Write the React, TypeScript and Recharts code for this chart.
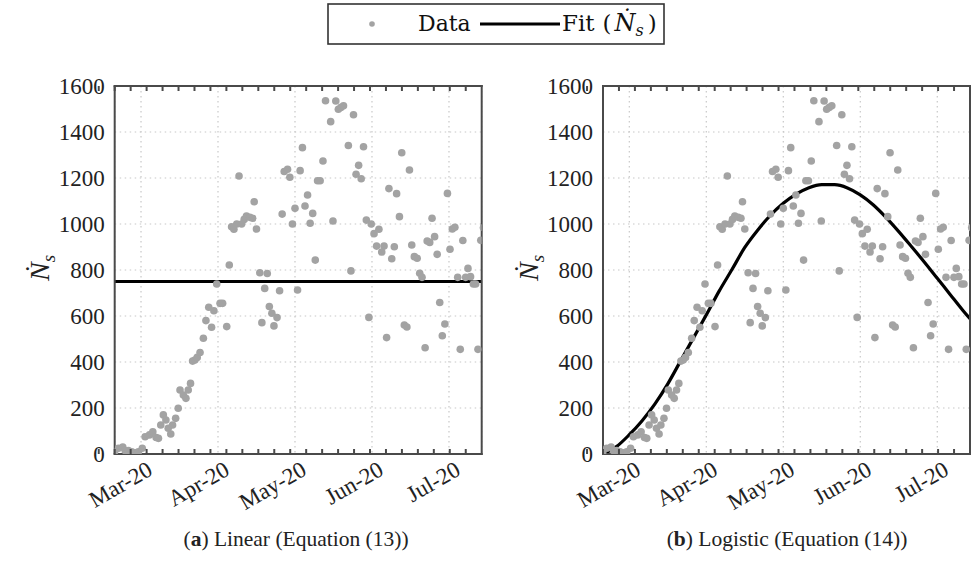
import React from "react";
import { ComposedChart, Scatter, Line, XAxis, YAxis, CartesianGrid } from "recharts";

// daily values (day 0 = Mar-20 tick)
const dataDays = [
  -10.3, -8.8, -7.1, -6.2, -4.9, -3.6, -2.3, -1.0, 0.5, 1.6,
  3.3, 4.6, 5.9, 6.8, 7.7, 8.7, 9.7, 10.6, 11.6, 12.3,
  13.5, 14.5, 15.2, 16.5, 17.5, 18.4, 19.3, 20.1, 21, 21.9,
  23, 24.3, 25.3, 26.4, 27.5, 28.4, 29.5, 30.8, 31.8, 33.4,
  34.4, 35.3, 36.2, 37.3, 38.2, 39.2, 40.2, 41.1, 42.4, 43.5,
  44.1, 45, 46.3, 47.1, 48.2, 49.2, 50, 51, 51.8, 53,
  54, 55, 55.8, 57.1, 58, 59, 60, 61, 62, 62.9,
  63.9, 64.9, 65.9, 66.9, 67.9, 68.8, 69.8, 70.9, 71.9, 73.9,
  74.8, 75.9, 76.9, 77.9, 78.9, 80.8, 81.8, 82.8, 83.8, 84.8,
  85.8, 86.7, 87.8, 88.8, 89.7, 90.8, 91.8, 92.7, 93.8, 94.7,
  95.7, 96.6, 97.7, 98.7, 99.6, 100.7, 101.6, 102.6, 103.6, 104.6,
  105.5, 106.5, 107.6, 108.6, 109.5, 110.7, 111.5, 112.5, 113.4, 114.4,
  115.4, 116.4, 117.4, 118.4, 119.4, 120.4, 121.3, 122.3, 123.4, 124.4,
  125.4, 126.5, 127.4, 128.4, 129.5, 130.4, 131.3, 132.4, 133.4,
];
const dataCases = [
  10, 25, 30, 15, 15, 10, 5, 10, 25, 75,
  83, 97, 72, 68, 126, 170, 148, 112, 87, 126,
  155, 199, 278, 256, 242, 278, 307, 404, 409, 420,
  441, 503, 580, 638, 551, 623, 739, 655, 655, 554,
  822, 988, 977, 1000, 1209, 1000, 1020, 1035, 1029, 1025,
  1097, 978, 788, 571, 720, 785, 641, 612, 557, 593,
  710, 1043, 1228, 1238, 1203, 1000, 1068, 713, 1232, 1332,
  1078, 1126, 1003, 1046, 843, 1188, 1188, 1274, 1536, 1445,
  1013, 1535, 1499, 1507, 1514, 1341, 796, 1475, 1216, 1255,
  1197, 1336, 1017, 594, 1000, 958, 904, 977, 878, 904,
  506, 1154, 849, 901, 1132, 1032, 1310, 561, 552, 1235,
  909, 858, 851, 786, 768, 462, 926, 920, 1025, 945,
  868, 659, 514, 565, 1133, 890, 978, 986, 768, 455,
  928, 768, 807, 771, 739, 739, 455, 929, 984,
];

// fitted curves
const linearDays = [-10.25, 132.75];
const linearFit = [750, 750];
const logisticDays = [-10.25, -5, 0, 5, 10, 15, 20, 25, 30, 35, 40, 45, 50, 55, 60, 65, 70, 75, 80, 85, 90, 95, 100, 105, 110, 115, 120, 125, 130, 132.75];
const logisticFit = [0, 32, 84, 145, 218, 305, 405, 505, 605, 708, 802, 898, 973, 1038, 1090, 1130, 1158, 1171, 1171, 1157, 1127, 1084, 1029, 967, 901, 834, 764, 694, 624, 588];

const monthTicks = [0, 30, 60, 90, 120];
const monthLabels = ["Mar-20", "Apr-20", "May-20", "Jun-20", "Jul-20"];
const minorX = [-6, 0, 6, 12, 18, 24, 30, 36, 42, 48, 54, 60, 66, 72, 78, 84, 90, 96, 102, 108, 114, 120, 126, 132];
const yTicks = [0, 200, 400, 600, 800, 1000, 1200, 1400, 1600];
const minorY = [
  0, 50, 100, 150, 200, 250, 300, 350, 400, 450, 500, 550, 600, 650, 700, 750, 800,
  850, 900, 950, 1000, 1050, 1100, 1150, 1200, 1250, 1300, 1350, 1400, 1450, 1500, 1550, 1600,
];

const X_DOMAIN: [number, number] = [-10.25, 132.75];
const FONT = "Liberation Serif, DejaVu Serif, serif";
const WIDE_FONT = "DejaVu Serif, serif";
const FRAME = "#4a4a4a";
const TEXT = "#222";

const MonthTick = ({ x, y, payload }: any) => {
  const label = monthLabels[monthTicks.indexOf(payload.value)];
  const ax = x + 13;
  const ay = y + 19;
  return (
    <text x={ax} y={ay} textAnchor="end" fontSize={23} fontFamily={FONT} fill={TEXT} transform={`rotate(-30 ${ax} ${ay})`}>
      {label}
    </text>
  );
};

const YTick = ({ x, y, payload }: any) => (
  <text x={x - 9} y={y} dy="0.35em" textAnchor="end" fontSize={23} fontFamily={FONT} fill={TEXT}>
    {payload.value}
  </text>
);

const Dot = (p: any) => <circle cx={p.cx} cy={p.cy} r={3.8} fill="#a3a3a3" />;

const tickBottom = (p: any) => <line x1={p.x} x2={p.x} y1={p.y} y2={p.y - 5} stroke={FRAME} strokeWidth={2} />;
const tickTop = (p: any) => <line x1={p.x} x2={p.x} y1={p.y} y2={p.y + 5} stroke={FRAME} strokeWidth={2} />;
const tickLeft = (p: any) => <line x1={p.x} x2={p.x + 5} y1={p.y} y2={p.y} stroke={FRAME} strokeWidth={2} />;
const tickRight = (p: any) => <line x1={p.x} x2={p.x - 5} y1={p.y} y2={p.y} stroke={FRAME} strokeWidth={2} />;

interface PanelProps {
  fitDays: number[];
  fitValues: number[];
  left: number;
  width: number;
  plotLeft: number;
  plotRight: number;
}

// plot box spans y 86..454 of the page
const Panel: React.FC<PanelProps> = ({ fitDays, fitValues, left, width, plotLeft, plotRight }) => {
  const points = dataDays.map((d, i) => ({ day: d, v: dataCases[i] }));
  const fit = fitDays.map((d, i) => ({ day: d, v: fitValues[i] }));
  const frameLine = { stroke: FRAME, strokeWidth: 2, strokeLinecap: "square" as const };
  const common = { tickLine: false, tickSize: 0, tickMargin: 0, interval: 0 as const };
  return (
    <div style={{ position: "absolute", left, top: 0 }}>
      <ComposedChart
        width={width}
        height={578}
        data={points}
        margin={{ top: 85, right: width - plotRight - 1, bottom: 578 - 454 - 2, left: plotLeft - 2 }}
      >
        {/* frame axes first so they sit right on the plot edges */}
        <XAxis xAxisId="bm" type="number" domain={X_DOMAIN} ticks={minorX} height={1} axisLine={frameLine} tick={tickBottom} {...common} />
        <XAxis xAxisId="tm" orientation="top" type="number" domain={X_DOMAIN} ticks={minorX} height={1} axisLine={frameLine} tick={tickTop} {...common} />
        <YAxis yAxisId="lm" type="number" domain={[0, 1600]} ticks={minorY} width={1} axisLine={frameLine} tick={tickLeft} {...common} />
        <YAxis yAxisId="rm" orientation="right" type="number" domain={[0, 1600]} ticks={minorY} width={1} axisLine={frameLine} tick={tickRight} {...common} />
        <XAxis
          xAxisId="x"
          dataKey="day"
          type="number"
          domain={X_DOMAIN}
          ticks={monthTicks}
          allowDataOverflow
          height={1}
          axisLine={false}
          tick={MonthTick}
          {...common}
        />
        <YAxis
          yAxisId="y"
          type="number"
          domain={[0, 1600]}
          ticks={yTicks}
          allowDataOverflow
          width={1}
          axisLine={false}
          tick={YTick}
          {...common}
        />
        <CartesianGrid xAxisId="x" yAxisId="y" stroke="#c8c8c8" strokeDasharray="1.5 3.5" strokeWidth={1.2} />
        <Scatter xAxisId="x" yAxisId="y" data={points} dataKey="v" shape={Dot} isAnimationActive={false} />
        <Line
          xAxisId="x"
          yAxisId="y"
          data={fit}
          dataKey="v"
          type="monotone"
          stroke="#000"
          strokeWidth={3.2}
          dot={false}
          activeDot={false}
          isAnimationActive={false}
        />
      </ComposedChart>
    </div>
  );
};

const YLabel = ({ left }: { left: number }) => (
  <div
    style={{
      position: "absolute",
      left,
      top: 268,
      transform: "translate(-50%, -50%) rotate(-90deg)",
      fontFamily: FONT,
      fontSize: 28,
      color: TEXT,
      whiteSpace: "nowrap",
    }}
  >
    <i>Ṅ</i>
    <sub style={{ fontSize: 19 }}>
      <i>s</i>
    </sub>
  </div>
);

const Caption = ({ center, tag, text }: { center: number; tag: string; text: string }) => (
  <div
    style={{
      position: "absolute",
      left: center,
      top: 527,
      transform: "translateX(-50%)",
      fontFamily: FONT,
      fontSize: 21.5,
      color: TEXT,
      whiteSpace: "nowrap",
    }}
  >
    (<b>{tag}</b>) {text}
  </div>
);

const LegendBox = () => (
  <svg width={974} height={50} style={{ position: "absolute", left: 0, top: 0 }}>
    <rect x={328} y={4} width={336} height={40} fill="#fff" stroke="#333" strokeWidth={1.6} />
    <circle cx={372} cy={24} r={2.8} fill="#a3a3a3" />
    <text x={418} y={31} fontSize={22} fontFamily={WIDE_FONT} fill="#111">
      Data
    </text>
    <line x1={480} x2={560} y1={24} y2={24} stroke="#000" strokeWidth={3} />
    <text x={562} y={31} fontSize={23} fontFamily={WIDE_FONT} fill="#111">
      <tspan>Fit</tspan>
      <tspan dx={8}>(</tspan>
      <tspan dx={3} fontStyle="italic" fontSize={24}>
        Ṅ
      </tspan>
      <tspan fontStyle="italic" fontSize={16} dy={5}>
        s
      </tspan>
      <tspan dx={4} dy={-5}>
        )
      </tspan>
    </text>
  </svg>
);

export default function App() {
  return (
    <div style={{ position: "absolute", left: 0, top: 0, width: 974, height: 578, background: "#fff", overflow: "hidden" }}>
      <LegendBox />
      <Panel fitDays={linearDays} fitValues={linearFit} left={0} width={490} plotLeft={114.7} plotRight={481.7} />
      <Panel fitDays={logisticDays} fitValues={logisticFit} left={490} width={484} plotLeft={113} plotRight={480} />
      <YLabel left={42} />
      <YLabel left={531} />
      <Caption center={296} tag="a" text="Linear (Equation (13))" />
      <Caption center={787} tag="b" text="Logistic (Equation (14))" />
    </div>
  );
}
